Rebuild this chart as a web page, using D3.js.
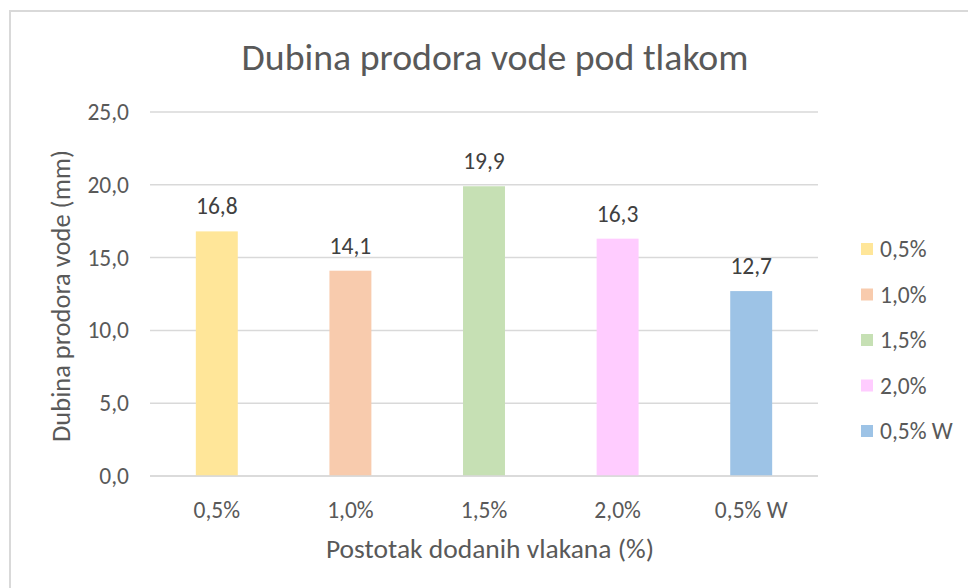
<!DOCTYPE html>
<html>
<head>
<meta charset="utf-8">
<script src="https://cdn.jsdelivr.net/npm/d3@7"></script>
<style>
  body { margin: 0; background: #fff; }
  svg { display: block; font-family: Carlito, Lato, "Open Sans", sans-serif; }
</style>
</head>
<body>
<div id="chart"></div>
<script>
const categories = ['0,5%', '1,0%', '1,5%', '2,0%', '0,5% W'];
const values = [16.8, 14.1, 19.9, 16.3, 12.7];
const colors = ['#FFE699', '#F8CBAD', '#C6E0B4', '#FFCCFF', '#9DC3E6'];
const yTicks = [0, 5, 10, 15, 20, 25];

const width = 968;
const height = 588;
const margin = { top: 112, right: 150, bottom: 112, left: 150 };
const fmt = v => d3.format('.1f')(v).replace('.', ',');
const textColor = '#595959';
const labelSize = '23.5px';

const svg = d3.select('#chart')
  .append('svg')
  .attr('width', width)
  .attr('height', height);

// chart frame (runs off the right and bottom edges)
svg.append('rect')
  .attr('x', 10)
  .attr('y', 11)
  .attr('width', width + 20)
  .attr('height', height + 20)
  .attr('fill', '#fff')
  .attr('stroke', '#d9d9d9')
  .attr('stroke-width', 2);

const x = d3.scaleBand()
  .domain(categories)
  .range([margin.left, width - margin.right])
  .paddingInner(0.686)
  .paddingOuter(0.343);

const y = d3.scaleLinear()
  .domain([0, 25])
  .range([height - margin.bottom, margin.top]);

// gridlines
svg.append('g')
  .selectAll('line')
  .data(yTicks)
  .enter()
  .append('line')
  .attr('x1', margin.left)
  .attr('x2', width - margin.right)
  .attr('y1', d => y(d))
  .attr('y2', d => y(d))
  .attr('stroke', '#d9d9d9')
  .attr('stroke-width', 1.5);

// y tick labels
const yAxis = svg.append('g')
  .attr('transform', `translate(${margin.left - 21},0)`)
  .attr('font-family', null)
  .attr('font-size', null)
  .call(d3.axisLeft(y).tickValues(yTicks).tickFormat(fmt).tickSize(0).tickPadding(0));
yAxis.select('.domain').remove();
yAxis.attr('font-family', null).attr('font-size', null);
yAxis.selectAll('text')
  .attr('fill', textColor)
  .style('font-size', labelSize);

// bars
svg.append('g')
  .selectAll('rect')
  .data(values)
  .enter()
  .append('rect')
  .attr('x', (d, i) => x(categories[i]))
  .attr('y', d => y(d))
  .attr('width', x.bandwidth())
  .attr('height', d => y(0) - y(d))
  .attr('fill', (d, i) => colors[i]);

// value labels
svg.append('g')
  .selectAll('text')
  .data(values)
  .enter()
  .append('text')
  .attr('x', (d, i) => x(categories[i]) + x.bandwidth() / 2)
  .attr('y', d => y(d) - 17)
  .attr('text-anchor', 'middle')
  .attr('fill', '#404040')
  .style('font-size', labelSize)
  .text(fmt);

// x axis line
svg.append('line')
  .attr('x1', margin.left)
  .attr('x2', width - margin.right)
  .attr('y1', y(0))
  .attr('y2', y(0))
  .attr('stroke', '#d9d9d9')
  .attr('stroke-width', 1.5);

const xAxis = svg.append('g')
  .attr('transform', `translate(0,${y(0)})`)
  .call(d3.axisBottom(x).tickSize(0));
xAxis.select('.domain').remove();
xAxis.attr('font-family', null).attr('font-size', null);
xAxis.selectAll('text')
  .attr('y', 42)
  .attr('dy', null)
  .attr('fill', textColor)
  .style('font-size', labelSize);

// title
svg.append('text')
  .attr('x', 495)
  .attr('y', 70)
  .attr('text-anchor', 'middle')
  .attr('fill', textColor)
  .style('font-size', '37.8px')
  .text('Dubina prodora vode pod tlakom');

// axis titles
svg.append('text')
  .attr('x', 490)
  .attr('y', 558)
  .attr('text-anchor', 'middle')
  .attr('fill', textColor)
  .style('font-size', '27.5px')
  .text('Postotak dodanih vlakana (%)');

svg.append('text')
  .attr('transform', 'translate(70,296) rotate(-90)')
  .attr('text-anchor', 'middle')
  .attr('fill', textColor)
  .style('font-size', '26.5px')
  .text('Dubina prodora vode (mm)');

// legend
const legend = svg.append('g')
  .selectAll('g')
  .data(categories)
  .enter()
  .append('g')
  .attr('transform', (d, i) => `translate(861,${249 + i * 45.5})`);

legend.append('rect')
  .attr('x', 0)
  .attr('y', -6)
  .attr('width', 12)
  .attr('height', 12)
  .attr('fill', (d, i) => colors[i]);

legend.append('text')
  .attr('x', 19)
  .attr('y', 0)
  .attr('dy', '0.35em')
  .attr('fill', textColor)
  .style('font-size', labelSize)
  .text(d => d);
</script>
</body>
</html>
